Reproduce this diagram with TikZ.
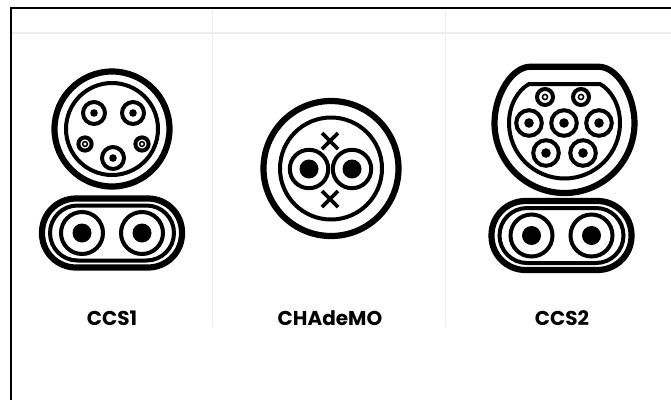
\documentclass[tikz,border=0pt]{standalone}
\usepackage{fontspec}
\setmainfont{Poppins}
\usetikzlibrary{positioning}

\tikzset{
  gridline/.style={draw=black!7, line width=1.2pt},
  frameline/.style={draw=black, line width=2pt},
  shell/.style={draw=black, line width=6.2pt},
  inner shell/.style={draw=black, line width=4pt},
  pinring/.style={draw=black, line width=4pt},
  pindot/.style={fill=black},
  plugname/.style={font=\bfseries\fontsize{20}{24}\selectfont, text=black, inner sep=0pt},
}
% power pins below the round part
\newcommand{\dcoval}[2]{
  \draw[shell, rounded corners=34pt] (#1-70,#2-34.5) rectangle (#1+70,#2+34.5);
  \draw[inner shell, rounded corners=27.5pt] (#1-62,#2-27.5) rectangle (#1+62,#2+27.5);
  \foreach \px in {-30,30} {
    \draw[pinring] (#1+\px,#2) circle (21);
    \fill[pindot] (#1+\px,#2) circle (9.5);
  }
}

\begin{document}
\begin{tikzpicture}[x=1pt, y=-1pt]
  \useasboundingbox (0,0) rectangle (671,400);
  \fill[white] (0,0) rectangle (671,400);

  \draw[gridline] (10,33) -- (671,33);
  \draw[gridline] (212.5,8) -- (212.5,327);
  \draw[gridline] (445.5,8) -- (445.5,327);
  \draw[frameline] (671,8) -- (10.5,8) -- (10.5,400);

  % CCS1
  \draw[shell] (112,129) circle (57.5);
  \draw[inner shell] (112,129) circle (46);
  \foreach \px/\py in {94/113, 133/113, 113/158} {
    \draw[pinring] (\px,\py) circle (11);
    \fill[pindot] (\px,\py) circle (3.8);
  }
  \foreach \px/\py in {85/144, 142/144} {
    \draw[pinring] (\px,\py) circle (6.6);
    \draw[black, line width=1.5pt] (\px,\py) circle (2.4);
  }
  \dcoval{112}{233}

  % CHAdeMO
  \draw[shell] (331,168.5) circle (67.5);
  \draw[inner shell] (331,168.5) circle (51);
  \foreach \px in {309,352} {
    \draw[pinring] (\px,169) circle (19.2);
    \fill[pindot] (\px,169) circle (9.5);
  }
  \foreach \py in {141,199} {
    \draw[black, line width=3.8pt] (322,\py-8) -- (338,\py+8);
    \draw[black, line width=3.8pt] (338,\py-8) -- (322,\py+8);
  }

  % CCS2
  \draw[shell] (530,66.8) -- (599,66.8)
    .. controls (617,66.8) and (634.5,95) .. (634.5,123)
    arc[start angle=0, end angle=180, radius=70]
    .. controls (494.5,95) and (512,66.8) .. (530,66.8) -- cycle;
  \draw[inner shell] (529,84) -- (600,84)
    .. controls (611,90) and (620,105) .. (620,123)
    arc[start angle=0, end angle=180, radius=55.5]
    .. controls (509,105) and (518,90) .. (529,84) -- cycle;
  \foreach \px in {545,581} {
    \draw[pinring] (\px,97) circle (8);
    \draw[black, line width=1.5pt] (\px,97) circle (2.6);
  }
  \foreach \px/\py in {529/123, 564/123, 599/123, 546/153, 583/153} {
    \draw[pinring] (\px,\py) circle (12.8);
    \fill[pindot] (\px,\py) circle (4.8);
  }
  \dcoval{561.5}{235.5}

  \node[plugname] (ccsone) at (112,318) {CCS1};
  \node[plugname] (chademo) at (330,318) {CHAdeMO};
  \node[plugname] (ccstwo) at (562,318) {CCS2};
\end{tikzpicture}
\end{document}
